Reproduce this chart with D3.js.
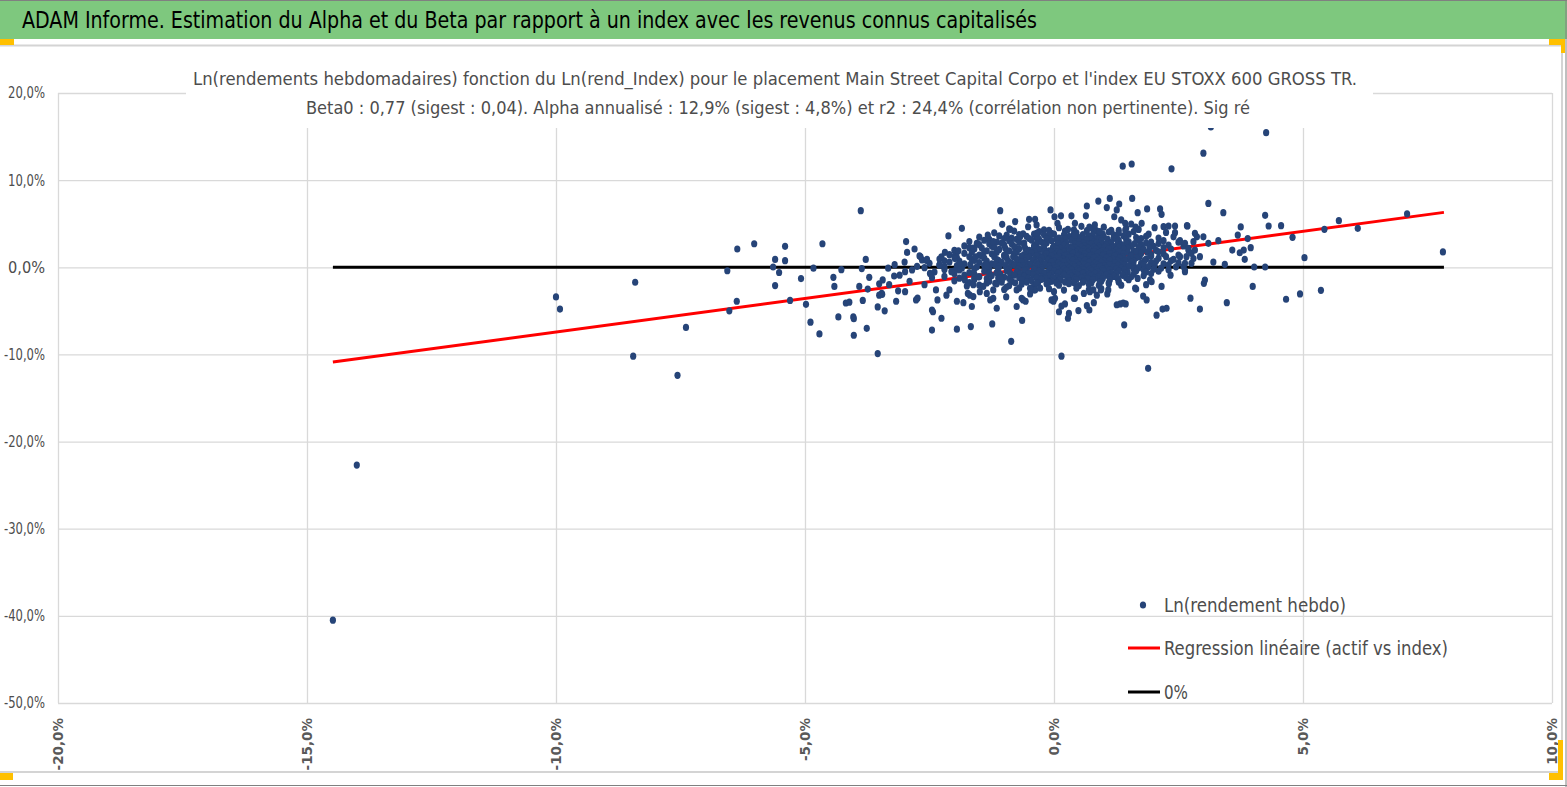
<!DOCTYPE html>
<html>
<head>
<meta charset="utf-8">
<script src="https://cdnjs.cloudflare.com/ajax/libs/d3/7.8.5/d3.min.js"></script>
<style>
  body { margin: 0; background: #fff; }
  svg { display: block; }
</style>
</head>
<body>
<svg id="chart" width="1567" height="787"></svg>
<script>
// ---- data (percent units) ----
const xTicks = [-20, -15, -10, -5, 0, 5, 10];
const yTicks = [20, 10, 0, -10, -20, -30, -40, -50];

const headerTitle = "ADAM Informe. Estimation du Alpha et du Beta par rapport à un index avec les revenus connus capitalisés";
const chartTitle = [
  "Ln(rendements hebdomadaires) fonction du Ln(rend_Index) pour le placement Main Street Capital Corpo et l'index EU STOXX 600 GROSS TR.",
  "Beta0 : 0,77 (sigest : 0,04). Alpha annualisé : 12,9% (sigest : 4,8%) et r2 : 24,4% (corrélation non pertinente). Sig ré"
];
const legendLabels = ["Ln(rendement hebdo)", "Regression linéaire (actif vs index)", "0%"];

const regressionLine = [[-14.48, -10.88], [7.83, 6.30]];
const zeroLine = [[-14.48, 0], [7.83, 0]];

// isolated points, index return vs asset return
const outerPoints = [
  [-14.48,-40.5],[-14.0,-22.7],[-10.0,-3.4],[-9.92,-4.8],[-8.41,-1.72],[-8.45,-10.2],[-7.56,-12.4],[-7.39,-6.9],
  [-6.56,-0.4],[-6.52,-5.0],[-6.37,-3.9],[-6.36,2.1],[-6.02,2.7],[-5.64,0.03],[-5.6,0.9],[-5.6,-2.1],[-5.52,-0.6],
  [-5.4,2.4],[-5.4,0.76],[-5.3,-3.8],[-5.08,-1.3],[-4.98,-4.25],[-4.89,-6.3],[-4.83,-0.1],[-4.71,-7.65],[-4.65,2.7],
  [-4.43,-1.15],[-4.41,-2.2],[-4.33,-5.7],[-4.27,-0.27],[-4.18,-4.1],[-4.11,-4.0],[-4.03,-5.7],[-4.02,-5.9],[-4.02,-7.8],
  [-3.88,6.5],[-3.86,-0.15],[-3.84,-3.8],[-3.91,-2.2],[-3.78,0.9],[-3.76,-7.0],[-3.74,-2.5],[-3.71,-1.15],[-3.54,-4.55],
  [-3.54,-9.9],[-3.51,-1.9],[-3.51,-3.2],[-3.44,-1.45],[-3.45,-3.1],[-3.4,-5.0],[-3.33,-0.1],[-3.31,-2.0],
  [-3.46,-3.0],[-3.17,-3.9],[-3.21,-1.0],[-3.13,-2.7],[-2.99,-2.8],[-2.99,-0.5],[-2.97,2.95],[-2.77,-3.75],[-2.74,-3.55],
  [-2.68,1.2],[-2.65,0.85],[-2.56,0.77],[-2.49,-0.7],[-2.45,-4.9],[-2.43,-5.1],[-2.45,-7.2],[-2.37,-2.6],[-2.34,-3.75],
  [-2.30,0.27],[-2.26,-5.85],[-2.26,1.2],[-2.19,1.7],[-2.16,-3.2],[-2.12,3.6],[-2.10,-2.6],[-2.06,-0.5],[-1.99,1.0],
  [-1.95,-3.9],[-1.95,-7.1],[-1.92,1.9],[-1.89,0.46],[-1.85,4.47],[-1.82,-4.06],[-1.79,-1.45],[-1.73,-3.0],[-1.67,-6.8],
  [-1.65,-4.5],[-1.62,-2.0],[-1.62,2.2],[-1.57,1.2],[-1.52,-1.1],[-1.49,-2.8],[-1.42,-2.2],[-1.35,0.27],[-1.35,-3.0],
  [-1.33,3.7],[-1.28,-3.75],[-1.24,-6.5],[-1.22,2.95],[-1.18,-1.84],[-1.15,-4.7],[-1.08,-1.26],[-1.08,6.5],[-1.04,4.93],
  [-0.96,-3.4],[-0.96,-2.3],[-0.95,3.7],[-0.88,4.36],[-0.86,-8.5],[-0.78,5.24],[-0.75,-4.5],[-0.75,-2.6],[-0.64,-6.1],
  [-0.62,-3.75],[-0.57,-3.9],[-0.50,5.5],[-0.48,-3.06],[-0.38,5.5],[-0.38,-2.6],[-0.35,4.86],[-0.35,-1.84],[-0.33,3.6],
  [-0.07,6.58],[-0.05,-3.75],[-0.01,-3.9],[0.0,-2.8],[0.01,5.8],[0.07,5.05],[0.10,-5.1],[0.14,5.9],[0.15,-10.2],
  [0.22,-4.2],[0.28,-5.85],[0.30,-5.3],[0.35,5.9],[0.40,-3.55],[0.42,5.05],[0.42,3.7],[0.49,-4.97],[0.60,-3.0],
  [0.64,5.9],[0.66,7.03],[0.66,-4.4],[0.71,4.6],[0.71,-4.9],[0.72,-2.8],[0.79,-2.6],[0.80,-4.06],[0.82,4.86],[0.86,-3.2],
  [0.89,7.6],[0.92,4.1],[0.94,-2.6],[1.06,6.85],[1.07,-3.06],[1.12,7.9],[1.21,5.8],[1.26,6.58],[1.31,7.26],[1.33,-4.2],
  [1.35,5.43],[1.38,11.6],[1.41,-6.6],[1.43,5.05],[1.43,4.28],[1.44,-4.2],[1.56,11.85],[1.57,7.9],[1.64,4.6],[1.65,-2.5],
  [1.68,6.27],[1.76,5.05],[1.79,-3.3],[1.85,-2.0],[1.86,-3.75],[1.87,6.7],[1.89,-11.6],[1.96,-1.65],[2.06,-5.5],
  [2.13,6.7],[2.16,6.08],[2.16,-2.2],[2.18,-4.8],[2.20,4.66],[2.26,-4.7],[2.30,4.74],[2.34,-0.9],[2.36,11.3],[2.43,4.74],
  [2.43,3.97],[2.60,0.08],[2.63,-0.5],[2.68,4.74],[2.74,-3.55],[2.83,3.9],[2.93,-4.8],[3.01,-1.84],[3.03,-1.46],
  [3.00,13.1],[3.10,7.33],[3.15,16.1],[3.20,0.6],[3.30,3.06],[3.40,6.27],[3.43,0.34],[3.47,-4.06],[3.58,1.98],
  [3.69,3.7],[3.73,1.67],[3.75,4.63],[3.81,1.98],[3.83,0.91],[3.89,3.3],[3.95,2.25],[3.99,-2.2],[4.02,0.03],[4.24,0.03],
  [4.24,5.96],[4.26,15.45],[4.31,4.74],[4.56,4.78],[4.66,-3.67],[4.79,3.44],[4.94,-3.06],[5.03,1.1],[5.36,-2.64],
  [5.43,4.36],[5.72,5.35],[6.10,4.47],[7.09,6.12],[7.81,1.76],
  [2.53,3.06],[2.63,2.75],[2.70,2.18],[2.80,2.94],[2.87,3.5],[3.00,3.5],[3.10,2.75],[2.53,1.22],[2.66,1.22],[2.76,1.6],
  [2.83,1.98],[2.93,1.22],[2.63,0.46],[2.76,0.46],[2.63,-0.38],[2.67,4.78],[1.55,4.97],[-0.68,3.5],[-0.35,3.9],
  [-1.75,-2.15],[-1.69,-3.2],[-1.62,-3.36],[-1.22,-3.56],[-1.22,-2.6],[-0.65,-3.56],[-0.48,-2.4],[-0.28,-2.4],[0.02,-3.56],
  [0.15,-4.45],[0.42,-3.56],[1.09,-2.6],[1.26,-4.3],[1.39,-4.1],[1.63,-2.4],[1.93,-1.45],
  [-3.0,0.6],[-2.85,-0.3],[-2.7,1.3],[-2.9,-1.6],[-2.6,-2.0],[-2.75,0.1],[-3.1,-0.9],[-2.55,0.9],[-2.8,2.1],[-2.45,-1.2],
  [-3.2,0.3],[-2.95,1.7]
];

// dense cloud around the origin
const corePoints = [
  [-0.9,4.4],[-0.52,4.65],[-0.2,4.3],[0.1,4.55],[0.28,4.35],[0.55,4.7],[0.78,4.4],[1.0,4.6],[1.15,4.25],[1.45,4.5],[1.7,4.35],[2.02,4.55],
  [-0.1,4.25],[0.4,4.3],[0.85,4.2],[1.3,4.25],
  [-1.2,3.95],[-0.8,4.15],[-0.62,3.85],[-0.3,4.1],[-0.05,3.9],[0.22,4.15],[0.45,3.95],[0.66,4.2],[0.9,3.85],[1.1,4.05],[1.3,3.9],[1.6,4.1],[1.9,3.8],[2.25,4.0],
  [-0.7,3.75],[-0.4,3.8],[-0.2,3.72],[0.0,3.8],[0.2,3.72],[0.4,3.8],[0.58,3.75],[0.78,3.72],[0.98,3.8],[1.2,3.72],[1.5,3.8],
  [-1.5,3.45],[-1.1,3.6],[-0.85,3.35],[-0.55,3.55],[-0.35,3.4],[-0.1,3.65],[0.1,3.35],[0.3,3.55],[0.5,3.4],[0.7,3.62],[0.85,3.3],[1.0,3.5],[1.2,3.38],[1.4,3.6],[1.65,3.42],[1.85,3.55],[2.1,3.35],[2.4,3.5],
  [-1.3,3.2],[-1.0,3.3],[-0.75,3.22],[-0.5,3.3],[-0.3,3.2],[-0.15,3.28],[0.05,3.22],[0.22,3.3],[0.42,3.2],[0.6,3.3],[0.75,3.22],[0.92,3.3],[1.08,3.2],[1.25,3.28],[1.45,3.22],[1.75,3.3],
  [-1.7,2.95],[-1.4,3.1],[-1.15,2.9],[-0.9,3.05],[-0.7,2.85],[-0.45,3.12],[-0.25,2.9],[-0.05,3.05],[0.15,2.88],[0.35,3.1],[0.5,2.95],[0.65,3.15],[0.8,2.9],[0.95,3.05],[1.1,2.85],[1.3,3.1],[1.5,2.92],[1.7,3.08],[1.95,2.9],[2.2,3.05],[2.5,2.88],
  [-1.55,2.75],[-1.3,2.7],[-1.05,2.8],[-0.85,2.7],[-0.6,2.78],[-0.35,2.7],[-0.15,2.8],[0.08,2.72],[0.25,2.8],[0.42,2.7],[0.58,2.78],[0.7,2.7],[0.85,2.8],[1.0,2.7],[1.15,2.78],[1.28,2.7],[1.45,2.8],[1.62,2.72],[1.85,2.78],[2.1,2.72],
  [-1.8,2.45],[-1.5,2.6],[-1.25,2.4],[-1.0,2.55],[-0.8,2.38],[-0.6,2.6],[-0.4,2.45],[-0.2,2.62],[0.0,2.4],[0.2,2.55],[0.35,2.35],[0.5,2.6],[0.62,2.45],[0.75,2.65],[0.9,2.4],[1.05,2.55],[1.2,2.38],[1.35,2.6],[1.55,2.45],[1.75,2.58],[2.0,2.4],[2.3,2.55],[2.6,2.45],
  [-1.7,2.25],[-1.45,2.2],[-1.2,2.3],[-0.98,2.2],[-0.78,2.28],[-0.58,2.2],[-0.4,2.3],[-0.2,2.22],[-0.02,2.28],[0.12,2.2],[0.28,2.3],[0.42,2.22],[0.55,2.3],[0.68,2.2],[0.8,2.28],[0.92,2.2],[1.02,2.3],[1.15,2.22],[1.3,2.3],[1.48,2.2],[1.7,2.28],[1.92,2.22],[2.2,2.25],
  [-2.0,1.95],[-1.6,2.1],[-1.35,1.9],[-1.1,2.05],[-0.9,1.88],[-0.7,2.12],[-0.5,1.95],[-0.3,2.1],[-0.1,1.9],[0.05,2.08],[0.2,1.92],[0.35,2.15],[0.48,1.95],[0.6,2.1],[0.72,1.88],[0.85,2.05],[0.98,1.92],[1.1,2.12],[1.25,1.95],[1.4,2.08],[1.6,1.9],[1.8,2.05],[2.05,1.95],[2.35,2.1],[2.7,1.95],
  [-1.95,1.75],[-1.65,1.7],[-1.4,1.8],[-1.15,1.72],[-0.95,1.8],[-0.75,1.7],[-0.55,1.78],[-0.38,1.7],[-0.2,1.8],[-0.05,1.72],[0.08,1.8],[0.2,1.7],[0.32,1.78],[0.45,1.7],[0.56,1.8],[0.68,1.72],[0.8,1.8],[0.92,1.7],[1.05,1.78],[1.18,1.7],[1.32,1.8],[1.48,1.72],[1.65,1.78],[1.88,1.7],[2.1,1.78],
  [-2.1,1.45],[-1.8,1.6],[-1.5,1.4],[-1.25,1.55],[-1.0,1.38],[-0.8,1.6],[-0.6,1.45],[-0.45,1.62],[-0.3,1.4],[-0.15,1.55],[0.0,1.42],[0.12,1.6],[0.25,1.45],[0.38,1.62],[0.5,1.4],[0.62,1.55],[0.75,1.38],[0.88,1.6],[1.0,1.45],[1.12,1.58],[1.25,1.4],[1.4,1.55],[1.55,1.42],[1.75,1.6],[1.95,1.45],[2.2,1.55],[2.5,1.4],
  [-2.0,1.25],[-1.7,1.2],[-1.45,1.3],[-1.2,1.22],[-1.0,1.3],[-0.82,1.2],[-0.65,1.28],[-0.5,1.2],[-0.35,1.3],[-0.2,1.22],[-0.05,1.28],[0.1,1.2],[0.22,1.3],[0.35,1.22],[0.48,1.3],[0.6,1.2],[0.72,1.28],[0.85,1.2],[0.98,1.3],[1.1,1.22],[1.22,1.3],[1.38,1.2],[1.55,1.28],[1.72,1.22],[1.95,1.28],[2.25,1.22],
  [-2.3,0.95],[-1.95,1.1],[-1.65,0.9],[-1.4,1.05],[-1.15,0.88],[-0.95,1.1],[-0.75,0.95],[-0.55,1.12],[-0.4,0.9],[-0.25,1.05],[-0.1,0.92],[0.05,1.1],[0.18,0.95],[0.3,1.12],[0.42,0.9],[0.55,1.05],[0.68,0.88],[0.8,1.1],[0.92,0.95],[1.05,1.08],[1.18,0.9],[1.32,1.05],[1.48,0.92],[1.65,1.1],[1.85,0.95],[2.1,1.05],[2.4,0.9],[2.8,1.0],
  [-2.2,0.75],[-1.9,0.7],[-1.6,0.8],[-1.35,0.72],[-1.12,0.8],[-0.92,0.7],[-0.72,0.78],[-0.58,0.7],[-0.42,0.8],[-0.28,0.72],[-0.12,0.8],[0.0,0.7],[0.12,0.78],[0.25,0.7],[0.38,0.8],[0.5,0.72],[0.62,0.8],[0.75,0.7],[0.88,0.78],[1.0,0.7],[1.12,0.8],[1.28,0.72],[1.42,0.78],[1.6,0.7],[1.82,0.78],[2.05,0.72],[2.35,0.75],
  [-2.5,0.45],[-2.1,0.6],[-1.8,0.4],[-1.5,0.55],[-1.25,0.38],[-1.05,0.6],[-0.85,0.45],[-0.65,0.62],[-0.5,0.4],[-0.35,0.55],[-0.2,0.42],[-0.05,0.6],[0.08,0.45],[0.2,0.62],[0.32,0.4],[0.45,0.55],[0.58,0.38],[0.7,0.6],[0.82,0.45],[0.95,0.58],[1.08,0.4],[1.22,0.55],[1.38,0.42],[1.55,0.6],[1.75,0.45],[1.95,0.55],[2.2,0.4],[2.5,0.5],
  [-2.3,0.25],[-1.95,0.2],[-1.68,0.3],[-1.4,0.22],[-1.18,0.3],[-0.98,0.2],[-0.8,0.28],[-0.62,0.2],[-0.48,0.3],[-0.32,0.22],[-0.18,0.3],[-0.02,0.2],[0.12,0.28],[0.25,0.2],[0.38,0.3],[0.5,0.22],[0.62,0.3],[0.75,0.2],[0.88,0.28],[1.0,0.2],[1.12,0.3],[1.28,0.22],[1.42,0.28],[1.6,0.2],[1.8,0.3],[2.02,0.22],[2.3,0.28],
  [-2.6,-0.05],[-2.2,0.1],[-1.85,-0.1],[-1.55,0.05],[-1.3,-0.12],[-1.1,0.1],[-0.9,-0.05],[-0.7,0.12],[-0.55,-0.1],[-0.4,0.05],[-0.25,-0.08],[-0.1,0.1],[0.05,-0.05],[0.18,0.12],[0.3,-0.1],[0.42,0.05],[0.55,-0.12],[0.68,0.1],[0.8,-0.05],[0.92,0.08],[1.05,-0.1],[1.2,0.05],[1.35,-0.08],[1.5,0.1],[1.7,-0.05],[1.9,0.08],[2.15,-0.1],[2.45,0.05],
  [-2.2,-0.25],[-1.9,-0.3],[-1.6,-0.2],[-1.35,-0.28],[-1.12,-0.2],[-0.92,-0.3],[-0.72,-0.22],[-0.55,-0.3],[-0.4,-0.2],[-0.25,-0.28],[-0.08,-0.2],[0.08,-0.3],[0.2,-0.22],[0.35,-0.3],[0.48,-0.2],[0.6,-0.28],[0.72,-0.2],[0.85,-0.3],[0.98,-0.22],[1.12,-0.3],[1.25,-0.2],[1.42,-0.28],[1.6,-0.2],[1.8,-0.3],[2.0,-0.22],[2.3,-0.28],
  [-2.4,-0.55],[-2.0,-0.4],[-1.7,-0.6],[-1.4,-0.45],[-1.15,-0.62],[-0.95,-0.4],[-0.75,-0.55],[-0.6,-0.38],[-0.45,-0.6],[-0.3,-0.45],[-0.15,-0.62],[0.0,-0.4],[0.12,-0.55],[0.25,-0.38],[0.38,-0.6],[0.5,-0.45],[0.62,-0.62],[0.75,-0.4],[0.88,-0.55],[1.0,-0.42],[1.15,-0.6],[1.3,-0.45],[1.48,-0.58],[1.65,-0.4],[1.85,-0.55],[2.1,-0.45],
  [-2.0,-0.75],[-1.6,-0.8],[-1.3,-0.7],[-1.08,-0.78],[-0.88,-0.7],[-0.68,-0.8],[-0.52,-0.72],[-0.35,-0.8],[-0.2,-0.7],[-0.05,-0.78],[0.08,-0.7],[0.2,-0.8],[0.32,-0.72],[0.45,-0.8],[0.58,-0.7],[0.7,-0.78],[0.82,-0.7],[0.95,-0.8],[1.08,-0.72],[1.25,-0.78],[1.42,-0.7],[1.6,-0.8],[1.95,-0.72],
  [-2.2,-1.05],[-1.8,-0.9],[-1.5,-1.1],[-1.25,-0.95],[-1.0,-1.12],[-0.8,-0.9],[-0.6,-1.05],[-0.42,-0.88],[-0.25,-1.1],[-0.1,-0.95],[0.05,-1.12],[0.2,-0.9],[0.35,-1.05],[0.48,-0.88],[0.62,-1.1],[0.75,-0.95],[0.9,-1.08],[1.05,-0.9],[1.2,-1.05],[1.38,-0.92],[1.55,-1.1],[1.8,-0.95],
  [-1.9,-1.25],[-1.6,-1.2],[-1.35,-1.3],[-1.12,-1.22],[-0.9,-1.3],[-0.7,-1.2],[-0.52,-1.28],[-0.35,-1.2],[-0.18,-1.3],[-0.02,-1.22],[0.12,-1.3],[0.28,-1.2],[0.42,-1.28],[0.55,-1.2],[0.68,-1.3],[0.82,-1.22],[0.98,-1.3],[1.12,-1.2],[1.28,-1.28],[1.45,-1.2],[1.68,-1.28],
  [-2.0,-1.55],[-1.6,-1.4],[-1.3,-1.6],[-1.05,-1.45],[-0.85,-1.62],[-0.65,-1.4],[-0.45,-1.55],[-0.25,-1.38],[-0.05,-1.6],[0.12,-1.45],[0.3,-1.62],[0.45,-1.4],[0.6,-1.55],[0.78,-1.42],[0.95,-1.6],[1.12,-1.45],[1.3,-1.58],[1.5,-1.42],
  [-1.7,-1.75],[-1.35,-1.8],[-1.05,-1.7],[-0.78,-1.78],[-0.55,-1.7],[-0.32,-1.8],[-0.1,-1.72],[0.05,-1.8],[0.22,-1.7],[0.4,-1.78],[0.58,-1.72],[0.75,-1.8],[0.92,-1.7],[1.1,-1.78],[1.3,-1.72],
  [-1.5,-2.05],[-1.15,-1.9],[-0.9,-2.1],[-0.65,-1.95],[-0.4,-2.12],[-0.15,-1.9],[0.1,-2.05],[0.3,-1.88],[0.5,-2.1],[0.7,-1.95],[0.9,-2.08],[1.1,-1.9],[1.35,-2.05],
  [-1.0,-2.55],[-0.7,-2.4],[-0.4,-2.6],[-0.1,-2.45],[0.2,-2.62],[0.45,-2.4],[0.7,-2.55],[0.95,-2.45]
];

// ---- layout ----
const W = 1567, H = 787;
const plot = { left: 58, right: 1552, top: 93, bottom: 703 };
const narrow = "'Liberation Sans Narrow', 'DejaVu Sans Condensed', 'Arial Narrow', sans-serif";
const gridColor = "#d9d9d9";
const textGray = "#595959";
const dotColor = "#264478";

const svg = d3.select("#chart");

const x = d3.scaleLinear().domain([-20, 10]).range([plot.left, plot.right]);
const y = d3.scaleLinear().domain([-50, 20]).range([plot.bottom, plot.top]);

const locale = d3.formatLocale({ decimal: ",", thousands: " ", grouping: [3], currency: ["", "€"], minus: "-" });
const pct = d => locale.format(".1f")(d) + "%";

// header band
svg.append("rect").attr("x", 0).attr("y", 0).attr("width", W).attr("height", 39).attr("fill", "#7ec87e");
svg.append("line").attr("x1", 0).attr("x2", W).attr("y1", 0.5).attr("y2", 0.5).attr("stroke", "#808080");
svg.append("text")
  .attr("x", 22).attr("y", 28)
  .attr("font-family", narrow).attr("font-size", 23)
  .attr("fill", "#000")
  .attr("textLength", 1015).attr("lengthAdjust", "spacingAndGlyphs")
  .text(headerTitle);

// gridlines & axes
const yAxis = d3.axisLeft(y).tickValues(yTicks).tickFormat(pct)
  .tickSize(-(plot.right - plot.left)).tickPadding(13);
const gy = svg.append("g").attr("transform", `translate(${plot.left},0)`).call(yAxis);
gy.select(".domain").remove();
gy.selectAll(".tick line").attr("stroke", gridColor).attr("stroke-width", 1.3);
gy.selectAll(".tick text")
  .attr("font-family", narrow).attr("font-size", 15.5).attr("fill", "#4d4d4d")
  .attr("textLength", d => d < 0 ? 41 : 37).attr("lengthAdjust", "spacingAndGlyphs");

const xAxis = d3.axisBottom(x).tickValues(xTicks).tickFormat(pct)
  .tickSize(-(plot.bottom - plot.top)).tickPadding(0);
const gx = svg.append("g").attr("transform", `translate(0,${plot.bottom})`).call(xAxis);
gx.select(".domain").remove();
gx.selectAll(".tick line").attr("stroke", gridColor).attr("stroke-width", 1.3);
gx.selectAll(".tick text")
  .attr("transform", "rotate(-90)")
  .attr("text-anchor", "end")
  .attr("x", -15).attr("y", 0).attr("dy", "0.36em")
  .attr("font-family", "'DejaVu Sans', Verdana, sans-serif")
  .attr("font-weight", "bold").attr("font-size", 13.5)
  .attr("fill", textGray);

// lines
const line = d3.line().x(d => x(d[0])).y(d => y(d[1]));
svg.append("path").attr("d", line(zeroLine)).attr("stroke", "#000").attr("stroke-width", 3).attr("fill", "none");
svg.append("path").attr("d", line(regressionLine)).attr("stroke", "#ff0000").attr("stroke-width", 3).attr("fill", "none");

// points
svg.append("g").selectAll("ellipse")
  .data(corePoints.concat(outerPoints))
  .join("ellipse")
  .attr("cx", d => x(d[0])).attr("cy", d => y(d[1]))
  .attr("rx", 3.1).attr("ry", 3.6)
  .attr("fill", dotColor);

// chart title (white box hides grid behind it)
svg.append("rect").attr("x", 186).attr("y", 58).attr("width", 1187).attr("height", 70).attr("fill", "#fff");
svg.append("text")
  .attr("x", 193).attr("y", 85)
  .attr("font-family", narrow).attr("font-size", 18.5).attr("fill", "#4d4d4d")
  .attr("textLength", 1164).attr("lengthAdjust", "spacingAndGlyphs")
  .text(chartTitle[0]);
svg.append("text")
  .attr("x", 306).attr("y", 114)
  .attr("font-family", narrow).attr("font-size", 18.5).attr("fill", "#4d4d4d")
  .attr("textLength", 944).attr("lengthAdjust", "spacingAndGlyphs")
  .text(chartTitle[1]);

// legend
const legendY = [605, 648, 692];
const legendLen = [182, 284, 24];
const lg = svg.append("g");
lg.append("ellipse").attr("cx", 1143).attr("cy", legendY[0]).attr("rx", 3.1).attr("ry", 3.6).attr("fill", dotColor);
lg.append("line").attr("x1", 1128).attr("x2", 1160).attr("y1", legendY[1]).attr("y2", legendY[1])
  .attr("stroke", "#ff0000").attr("stroke-width", 3);
lg.append("line").attr("x1", 1128).attr("x2", 1160).attr("y1", legendY[2]).attr("y2", legendY[2])
  .attr("stroke", "#000").attr("stroke-width", 3);
lg.selectAll("text").data(legendLabels).join("text")
  .attr("x", 1164).attr("y", (d, i) => legendY[i] + 7)
  .attr("font-family", narrow).attr("font-size", 20).attr("fill", "#4d4d4d")
  .attr("textLength", (d, i) => legendLen[i]).attr("lengthAdjust", "spacingAndGlyphs")
  .text(d => d);

// frame, selection handles
svg.append("line").attr("x1", 0).attr("x2", 1562).attr("y1", 45.5).attr("y2", 45.5).attr("stroke", "#d4d4d4").attr("stroke-width", 2);
svg.append("line").attr("x1", 0).attr("x2", 1562).attr("y1", 772).attr("y2", 772).attr("stroke", "#d4d4d4").attr("stroke-width", 2);
svg.append("line").attr("x1", 1562).attr("x2", 1562).attr("y1", 45).attr("y2", 772).attr("stroke", "#d4d4d4").attr("stroke-width", 2);
svg.append("line").attr("x1", W - 1).attr("x2", W - 1).attr("y1", 0).attr("y2", H).attr("stroke", "#808080");
svg.append("line").attr("x1", 0).attr("x2", W).attr("y1", H - 1.5).attr("y2", H - 1.5).attr("stroke", "#808080");
const handles = [[0, 39, 14, 6], [1549, 39, 16, 6], [1561, 39, 4, 14], [0, 773, 13, 7], [1549, 773, 14, 7], [1558, 740, 5, 40]];
svg.append("g").selectAll("rect").data(handles).join("rect")
  .attr("x", d => d[0]).attr("y", d => d[1]).attr("width", d => d[2]).attr("height", d => d[3])
  .attr("fill", "#ffc000");
</script>
</body>
</html>
